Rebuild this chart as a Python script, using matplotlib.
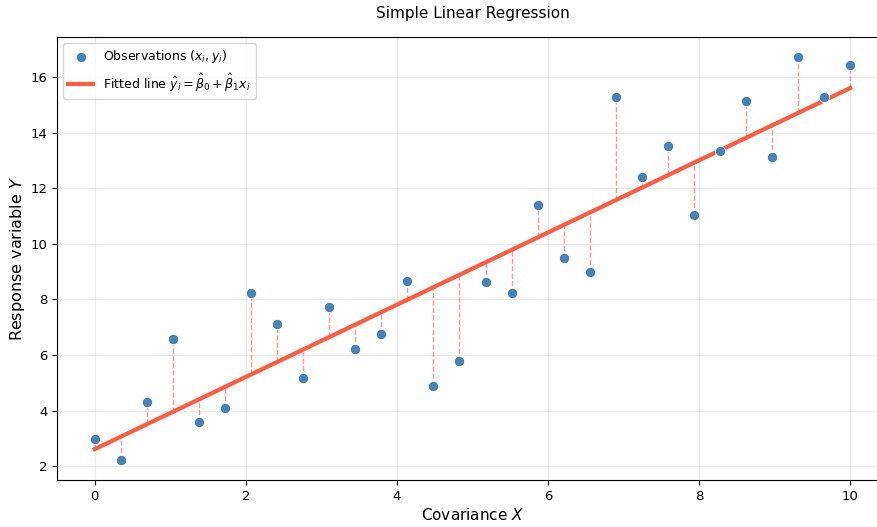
import numpy as np
import matplotlib
matplotlib.use("Agg")
import matplotlib.pyplot as plt

x = np.linspace(0, 10, 30)
y = np.array([2.97, 2.22, 4.30, 6.57, 3.58, 4.09, 8.23, 7.11, 5.17, 7.72,
              6.21, 6.75, 8.66, 4.88, 5.78, 8.62, 8.23, 11.39, 9.48, 8.98,
              15.28, 12.40, 13.52, 11.03, 13.34, 15.13, 13.12, 16.72, 15.28, 16.43])

b1, b0 = np.polyfit(x, y, 1)
yhat = b0 + b1 * x

fig = plt.figure(figsize=(8.78, 5.27), dpi=100)
ax = fig.add_axes([57/878, 1 - 480/527, 831/878, 443/527])

ax.vlines(x, np.minimum(y, yhat), np.maximum(y, yhat), colors="#ff7f7f",
          linestyles="--", linewidth=1, alpha=0.8, zorder=1)
ax.scatter(x, y, s=55, color="steelblue", edgecolors="white", linewidths=0.6,
           zorder=3, label=r"Observations $(x_i, y_i)$")
ax.plot(x, yhat, color="#ff5c40", linewidth=3, zorder=2,
        label=r"Fitted line $\hat{y}_i = \hat{\beta}_0 + \hat{\beta}_1 x_i$")

ax.set_xlim(-0.5, 10.5)
ax.set_ylim(1.5, 17.44)
ax.set_yticks([2, 4, 6, 8, 10, 12, 14, 16])
ax.set_xticks([0, 2, 4, 6, 8, 10])
ax.tick_params(labelsize=9.5)
ax.grid(True, color="#dddddd", alpha=0.6, linewidth=0.8)
ax.set_axisbelow(True)
ax.set_xlabel(r"Covariance $X$", fontsize=11, labelpad=3)
ax.set_ylabel(r"Response variable $Y$", fontsize=11.5, labelpad=2)
ax.set_title("Simple Linear Regression", fontsize=11, pad=14)
ax.legend(loc="upper left", fontsize=9, framealpha=0.8)

fig.savefig("out.png", dpi=100)
